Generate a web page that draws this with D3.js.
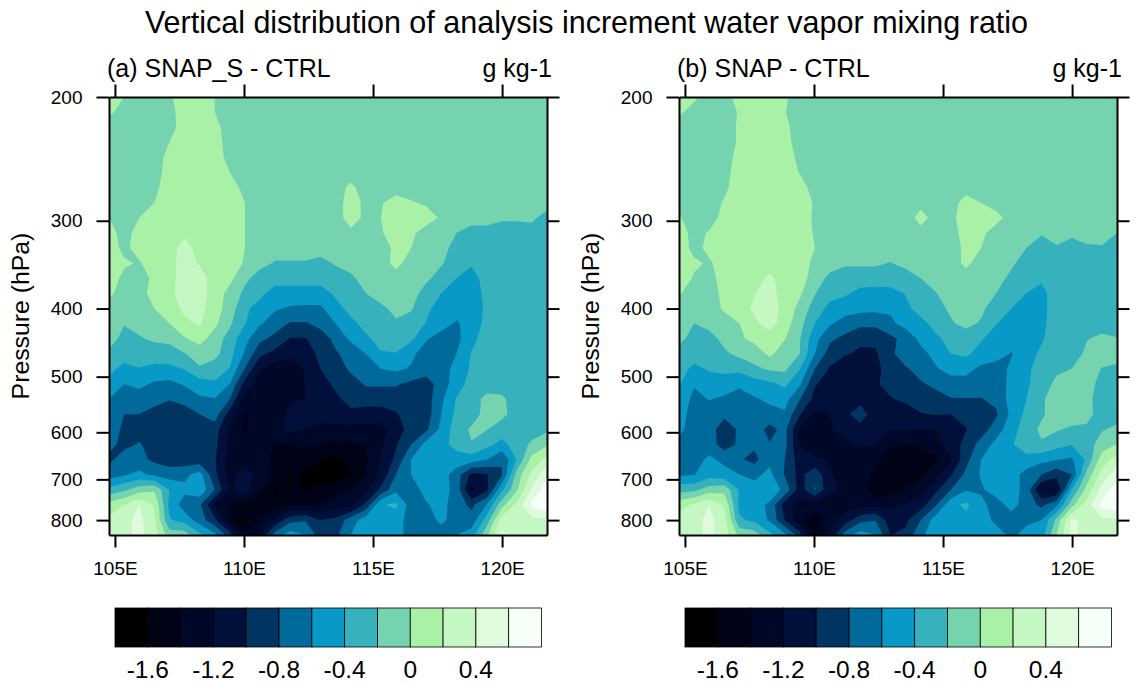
<!DOCTYPE html>
<html><head><meta charset="utf-8">
<script src="https://cdn.jsdelivr.net/npm/d3@7"></script>
<style>
html,body{margin:0;padding:0;background:#fff}
svg{display:block}
text{font-family:"Liberation Sans",Arial,sans-serif;fill:#000}
</style></head><body>
<svg id="c" width="1142" height="684"></svg>
<script>
const title = "Vertical distribution of analysis increment water vapor mixing ratio";
const panelTitles = ["(a) SNAP_S - CTRL", "(b) SNAP - CTRL"];
const unitLabel = "g kg-1";
const yAxisLabel = "Pressure (hPa)";
const levels = [-1.6,-1.4,-1.2,-1.0,-0.8,-0.6,-0.4,-0.2,0,0.2,0.4,0.6];
const colors = ["#000000","#000316","#00082a","#00103a","#003562","#006a9a","#0899c6","#37b2bd","#76d3b0","#a8f1a6","#c4f7c2","#dffadd","#f7fff9"];
const colorbarLabels = ["-1.6","-1.2","-0.8","-0.4","0","0.4"];
const lonTicks = [105,110,115,120];
const pressureTicks = [200,300,400,500,600,700,800];
const lonRange = [104.77,121.74];
const pressureRange = [200,840];

// Analysis increment, in units of 0.1 g/kg.
// Rows run from 200 hPa down to 840 hPa (even in log p), columns west to east.
const snapS = [
[1,0,-1,-1,-.3,1,1,0,-1,-1, -1,-1,-1,-1,-1,-1,-1,-1,-1,-1, -1,-1,-1,-1,-1,-1,-1,-1,-1,-1],
[.5,-1,-1,-1,-1,1.5,1,0,-1,-1, -1,-1,-1,-1,-1,-1,-1,-1,-1,-1, -1,-1,-1,-1,-1,-1,-1,-1,-1,-1],
[-1,-1,-1,-1,-.8,1,1,1,-1.5,-1, -1,-1,-1,-1,-1,-1,-1,-1,-1,-1, -1,-1,-1,-1,-1,-1,-1,-1,-1,-1],
[-1,-1,-1,-1,0,1,1,1,-1,-1, -1,-1,-1,-1,-1,-1,-1,-1,-1,-1, -1,-1,-1,-1,-1,-1,-1,-1,-1,-1],
[-1,-1,-1,-1.5,1,1,1,1.5,-1,-1, -1,-1,-1,-1,-1,-1,-1,-1,-1,-1, -1,-1,-1,-1,-1,-1,-1,-1,-1,-1],
[-1,-1,-1,-1,1,1,1,1,0,-1, -1,-1,-1,-1,-1,-1,-1,-1,-1,-1, -1,-1,-1,-1,-1,-1,-1,-1,-1,-1],
[-1,-1,-1,-.5,1,1,1,1,1.5,-1, -1,-1,-1,-1,-1,-1,.5,-1,-1,-1, -1,-1,-1,-1,-1,-1,-1,-1,-1,-1],
[-1,-1,-1,0,1,1,1,1,1,0, -1,-1,-1,-1,-1,-1,1,-.5,-.2,1, .2,-.3,-1,-1,-1,-1,-1,-1,-1,-1],
[0,-1,0,1,1,1,1,1,1,0, -1,-1,-1,-1,-1,-1,1,-.5,0,1, 1,1,-.3,-1,-1,-1,-1.7,-1.7,-1.5,-3],
[1,-1,1,1,1,1.5,1,1,1,0, -1,-1,-1,-1,-1,-1,-.5,-1,-.2,1, .5,-1,-1,-2,-3,-3,-3,-3,-3,-3],
[1,-.5,.8,1,1,3,1,1,1,0, -1,-1,-1,-1,-1,-1,-1,-1,-1,.5, 0,-1,-1,-3,-3,-3,-3,-3,-3,-3],
[1,.3,-.2,1,1.2,3,1.8,1,1,-.2, -1.3,-2.2,-2.2,-2.2,-2.7,-1.8,-1,-1,-1,.7, -1,-1,-1.8,-3,-3.7,-3,-3,-3,-3,-3],
[1,-.5,-1,.5,1.3,3,3,1,.5,-1.5, -3,-3,-3,-3,-3,-3,-2.5,-1,-1,-1, -1,-1.5,-3,-4,-5,-3,-3,-3,-3,-3],
[.5,-1,-1,1,1.5,3,3,1,-.6,-2.5, -3.4,-5,-5,-5,-5,-3.6,-3,-2,-1,-1, -1,-3,-4,-5,-5,-3.5,-3,-3,-3,-3],
[-1,-1,-1,0,1,2.5,2.6,1,-1,-3.5, -5,-5.8,-6.2,-6.3,-6.3,-4.8,-3.3,-3,-2.5,-1.4, -1.8,-3.5,-5,-5,-5,-3.7,-3,-3,-3,-3],
[-1,-1.9,-1.3,-1,0,1.5,2.2,.5,-1.7,-3.9, -5.8,-7,-8.2,-8.2,-7.4,-6,-4.6,-3.3,-2.8,-2.3, -2.8,-4.1,-5,-6.3,-5,-3.5,-3,-3,-3,-3],
[-1.2,-2.6,-2.2,-1.7,-1.7,-.2,.8,-1,-2.8,-5.4, -7.5,-8.6,-10.1,-10.1,-9,-7.5,-5.6,-4.4,-3.2,-3, -3.6,-5.8,-7,-6.6,-4.6,-3,-3,-3,-3,-3],
[-2.4,-3,-3,-3,-2.5,-2.1,-1.2,-1.4,-3.3,-6.3, -9.5,-10.6,-11.7,-10.8,-9.6,-8.2,-7.4,-6,-4.2,-4.1, -5.5,-7,-7,-6,-3.9,-3,-3,-3,-3,-3],
[-3.5,-4.6,-4.1,-4.5,-4.6,-3.9,-2.2,-3,-4.1,-8.1, -12,-13,-13,-11.8,-10,-9.2,-7.6,-7,-6,-5.6, -6.2,-7,-7,-5.3,-3.7,-3,-3,-3,-3,-3],
[-4.5,-6,-5.5,-6.3,-6.5,-5.8,-5,-4.3,-6,-10.8, -13,-13,-13,-12,-11,-9.5,-9,-7.8,-7.8,-7.8, -8.5,-9,-7,-5,-3.2,-3,-3,-3,-3,-3],
[-6,-7,-7,-7,-7.9,-7.3,-6.3,-6.1,-8,-13, -13,-13,-12.2,-12,-11,-10.5,-9.2,-9,-9,-9, -9,-9,-6.4,-3.9,-3,-1.4,-1.6,-3,-3,-3],
[-6.4,-8,-8,-9,-9,-9,-8,-7,-11,-14.3, -13,-13,-11.5,-12,-11.5,-11,-10.5,-11,-11,-10.2, -9,-9,-6,-3.5,-3,-1.2,-1.4,-3,-3,-3],
[-6.6,-8.5,-9,-9,-9,-9,-9,-9,-12.5,-14.2, -13,-12.5,-11.5,-12,-12.3,-12.5,-12.6,-12.7,-12.6,-11.2, -9,-8.4,-5.5,-3,-1.7,-1.9,-3,-3,-3,-2.4],
[-7.4,-8.6,-7.8,-9,-9,-9,-9,-9.5,-12.5,-13, -13,-14.1,-14.2,-13.5,-14.2,-14.5,-14.3,-14,-12.4,-10.2, -8,-5.3,-4.6,-3.4,-2.1,-3.4,-4.6,-3.2,-1.6,-.3],
[-8.5,-7,-7.4,-8.4,-9,-9.2,-9.2,-9.8,-13,-13, -13.5,-14.3,-14.6,-15.2,-15.9,-16.6,-15.5,-14.2,-11.9,-9.5, -6,-5,-5,-4.8,-5,-5.9,-7.8,-3.8,.6,2.6],
[-7,-6.2,-5.5,-6.5,-7,-6.5,-5.2,-9.5,-13,-11, -13,-14.3,-15,-16.3,-16.8,-16.8,-16,-14,-11.5,-8, -6,-5,-5,-7,-10.5,-10.2,-8.2,-1.2,2.5,5.5],
[-3.4,-2.4,-.9,-.3,-4,-5.5,-4.5,-8,-12.2,-11, -13.8,-16.3,-15.3,-16.2,-15.5,-15,-14,-12.5,-9.5,-6.5, -7,-5.3,-5,-6.8,-12.5,-10.5,-4.5,-.3,4.4,7.2],
[.9,2,4,1.8,-4.5,-7,-7.7,-12,-14.2,-15, -15.5,-15.8,-14,-14,-14,-13,-12.5,-9.5,-4.2,-3.6, -7,-6.2,-5.3,-7,-8.5,-6,-.8,2.5,6.5,7.8],
[2.5,3.4,4.6,2.3,-3.8,-4.8,-7,-9.5,-14.2,-16.4, -14,-11.5,-8.7,-8.2,-10,-9.5,-7,-5,-5,-5, -7,-7,-5.5,-7,-7.2,-3.2,3,2.5,3.5,3.8],
[3,3.4,4.6,3,-1,-1,-3.5,-5.5,-9,-14, -12,-7,-5,-6,-9,-8.5,-6,-4.8,-5,-5, -7,-7,-7,-6,-5,-.5,4.5,3,3.4,3]
];
const snap = [
[1,.5,-1,-1,1,1,1,.3,-1,-1, -1,-1,-1,-1,-1,-1,-1,-1,-1,-1, -1,-1,-1,-1,-1,-1,-1,-1,-1,-1],
[.5,-1,-1,-1,.2,1,1,.1,-1,-1, -1,-1,-1,-1,-1,-1,-1,-1,-1,-1, -1,-1,-1,-1,-1,-1,-1,-1,-1,-1],
[-1,-1,-1,-1,.3,1,1,.5,-1,-1, -1,-1,-1,-1,-1,-1,-1,-1,-1,-1, -1,-1,-1,-1,-1,-1,-1,-1,-1,-1],
[-1,-1,-1,-1,.3,1,1,.8,-1,-1, -1,-1,-1,-1,-1,-1,-1,-1,-1,-1, -1,-1,-1,-1,-1,-1,-1,-1,-1,-1],
[-1,-1,-1,-1,.8,1,1,1,-.5,-1, -1,-1,-1,-1,-1,-1,-1,-1,-1,-1, -1,-1,-1,-1,-1,-1,-1,-1,-1,-1],
[-1,-1,-1,-.7,1,1,1,1,-.1,-1, -1,-1,-1,-1,-1,-1,-1,-1,-1,-1, -1,-1,-1,-1,-1,-1,-1,-1,-1,-1],
[-1,-1,-1,-.4,1,1,1,1,1,-1, -1,-1,-1,-1,-1,-1,-1,-1,-1,-1, -1,-1,-1,-1,-1,-1,-1,-1,-1,-1],
[-1,-1,-1,.2,1,1,1,1,1,-.2, -1,-1,-1,-1,-1,-1,-.8,-1,-1,1, 0,-1,-1,-1,-1,-1,-1,-1,-1,-1],
[.2,-1,-1,.8,1,1,1,1,1,-.3, -1,-1,-1,-1,-1,-1.5,1,-1,-.5,1, 1,.8,-1,-1,-1,-1,-1,-1,-1,-1],
[1,-.7,.2,1,1,1,1,1,1,-.2, -1,-1,-1,-1,-1,-1,-1,-1,-1,1, .5,-1,-1,-1,-1.8,-1.2,-1.5,-1.2,-1.1,-2],
[1,-.5,.4,1,1,1,1,1,1,0, -1,-1,-1,-1,-1,-1,-1,-1,-1,.5, 0,-1,-1.5,-2,-3,-2.2,-3,-2.3,-2.2,-3],
[.6,.3,-.2,.7,1,1,1,1,1,-.5, -1.2,-1.7,-1.7,-1.7,-2.1,-1.4,-1,-1,-1,.5, -1,-1,-1.6,-3,-3,-3,-3,-3,-3,-3],
[1,-.2,-.8,1,1,1,2.5,1,1,-1, -2.5,-3,-3,-3,-3,-3,-2,-1,-1,-1, -1,-1.2,-2.5,-3,-3.7,-3,-3,-3,-3,-3],
[.2,-1,-1,.6,1.2,1.9,2.9,1,.3,-1.9, -3.3,-3.7,-4.6,-4.8,-4.7,-3.9,-3,-2.1,-1,-1, -1,-2,-3,-4,-4.6,-3,-3,-3,-3,-3],
[-1,-1,-1,.3,1,2.4,3,1.3,-.6,-3, -4.6,-5.3,-5.4,-5.5,-5.7,-4.5,-3.2,-2.6,-1.7,-1, -1.6,-3,-4,-5,-4.6,-3,-3,-3,-3,-3],
[-1.2,-2,-1.5,-1,0,1.6,2.9,1,-1.3,-4, -5.8,-6.7,-7.5,-7.5,-6.4,-5.3,-4.6,-3.4,-2.2,-1.5, -2.2,-3.9,-5,-5,-4.5,-3,-3,-3,-3,-3],
[-1.5,-2.7,-2.6,-1.5,-.3,.5,1,.1,-1.9,-5.4, -7.6,-8.6,-9.5,-9.5,-8.5,-7.3,-5.5,-4.3,-3.5,-3, -3.8,-5,-5.5,-5.5,-4.2,-3,-3,-2.1,-1.5,-1.9],
[-2.8,-3,-3,-2.3,-1.5,-1,.4,-1,-2,-6, -9,-9.8,-10.4,-10.3,-8.4,-7,-6.6,-5.4,-4,-3.6, -4.8,-5.2,-6.1,-4.7,-3.7,-2.9,-3,-1.6,-1,-1],
[-3.2,-4.5,-3.8,-3.5,-3.5,-2.4,-1.7,-1.6,-3.9,-8, -10.2,-11.6,-11.7,-10.5,-9.2,-8.2,-7.4,-6.2,-5.2,-5.4, -6.4,-6.8,-5.7,-4.5,-3,-2.4,-2,-1,-2.1,-2.5],
[-3.8,-5.8,-4.9,-5,-5.6,-4.9,-4.4,-3.6,-5.7,-9.8, -11,-11.5,-11.5,-10.2,-9.5,-9.2,-8.2,-7.6,-7,-6.7, -6.9,-7,-5.5,-4.3,-3,-1.5,-1,-1.4,-2.5,-3],
[-4.5,-6.6,-5.9,-6.3,-6.9,-6.2,-5.6,-5.2,-7.9,-10.7, -11.5,-11.5,-11,-11.5,-10.1,-9.7,-9.2,-8.7,-8.1,-8.1, -8.1,-7.5,-5.2,-4,-2.3,-1,-1,-1.4,-3,-3],
[-5,-7,-7,-7.6,-7,-7,-6.7,-6.3,-9.8,-12.6, -12,-10.6,-8.6,-11.5,-10.8,-10.8,-10.1,-9.9,-10,-9.2, -9,-8.3,-5.5,-3.5,-2.3,-1,-1,-1.3,-3,-3],
[-5.5,-7,-7.2,-9,-7.7,-7,-8.6,-7.4,-12.2,-13, -12.2,-11.2,-11,-11.8,-11.9,-11.8,-12,-12,-11,-10.1, -9,-7,-4.8,-3,-1.6,-1.8,-2.3,-2.4,-2.2,-1.5],
[-6.6,-7,-7,-9,-7.6,-7.6,-7.9,-7.4,-12.2,-13, -13,-12.5,-11.8,-12,-13.8,-14,-13.8,-13,-11,-9.4, -7.2,-5.4,-4.2,-3,-2.2,-3.2,-3.9,-3,-1,.1],
[-6.7,-6.8,-5.6,-6.5,-7.8,-8.6,-6.5,-8,-11,-11.7, -12.2,-12.7,-12.8,-13.7,-14.8,-15,-15,-14.3,-12.2,-8.7, -6,-5,-4.8,-4.6,-5.4,-5.9,-6.3,-3.6,1,2.8],
[-6.3,-6.1,-5,-5.3,-6,-6.5,-5.5,-8.2,-10.7,-8.5, -11.8,-12.6,-13,-14.5,-15.3,-15.2,-14.5,-12.7,-10.2,-7.5, -5.8,-5,-5,-6.8,-8,-9.4,-8,-1.3,2.7,5.2],
[-2.8,-2.5,-1,-.6,-4.2,-5.2,-4.8,-6.5,-11,-7.8, -11.6,-12.4,-13,-15.4,-15.2,-14,-12.8,-10.5,-8,-6.2, -6.3,-5,-5,-6.8,-12.2,-12.2,-4,.6,4.8,7.2],
[1.2,2.3,4,1.7,-4.5,-5.4,-6.3,-11,-13,-12.8, -12.8,-13,-12.8,-12.6,-12.4,-11.8,-11,-8.2,-4.6,-3.6, -5.4,-7,-5.2,-7,-8.5,-6.5,-.8,3,6.6,7.6],
[2.8,3.2,4.6,2.8,-3.7,-4.5,-6.3,-10,-13.5,-15.5, -13,-11,-8.7,-8.1,-11,-10.5,-8,-5,-4.7,-4.6, -5,-6.5,-7,-6.5,-6,-1.5,4.5,3.3,3.6,3.6],
[3,3.3,4.6,3,-.5,-1,-3.5,-5.5,-9,-14, -11.5,-7,-5,-6,-10,-9.5,-6.4,-5,-5,-5, -5,-5,-6.5,-5.2,-5,0,4.6,3,3,3]
];
const panelsData = [snapS, snap];

const svg = d3.select("#c");
svg.append("text").attr("x",586.5).attr("y",33).attr("text-anchor","middle")
  .attr("font-size",30.5).text(title);

const plotW = 438, plotH = 438, plotTop = 97, plotLefts = [109,679], tickLen = 12.5;
const nCols = snapS[0].length, nRows = snapS.length;
const contourGen = d3.contours().size([nCols,nRows]).thresholds(levels);

panelsData.forEach((rows,p)=>{
  const left = plotLefts[p];
  const g = svg.append("g").attr("transform",`translate(${left},${plotTop})`);
  const x = d3.scaleLinear().domain(lonRange).range([0,plotW]);
  const y = d3.scaleLog().domain(pressureRange).range([0,plotH]);
  const lonAt = c => lonRange[0] + (c-.5)/(nCols-1)*(lonRange[1]-lonRange[0]);
  const presAt = r => pressureRange[0]*Math.pow(pressureRange[1]/pressureRange[0],(r-.5)/(nRows-1));
  const path = d3.geoPath(d3.geoTransform({point(a,b){this.stream.point(x(lonAt(a)),y(presAt(b)));}}));
  const flat = rows.flat().map(v=>v/10);
  const clipId = "clip"+p;
  g.append("clipPath").attr("id",clipId).append("rect").attr("width",plotW).attr("height",plotH);
  const plot = g.append("g").attr("clip-path",`url(#${clipId})`);
  plot.append("rect").attr("width",plotW).attr("height",plotH).attr("fill",colors[0]);
  plot.selectAll("path").data(contourGen(flat)).join("path")
    .attr("d",path).attr("fill",(d,i)=>colors[i+1]);

  const fmtLon = d=>d+"E";
  const styleAxis = a=>{
    a.selectAll("path").attr("stroke","#000").attr("stroke-width",2);
    a.selectAll("line").attr("stroke","#000").attr("stroke-width",2);
  };
  const bottom = g.append("g").attr("transform",`translate(0,${plotH})`)
    .call(d3.axisBottom(x).tickValues(lonTicks).tickFormat(fmtLon).tickSize(tickLen).tickSizeOuter(0).tickPadding(14)).call(styleAxis);
  bottom.selectAll("text").attr("font-size",19);
  g.append("g").call(d3.axisTop(x).tickValues(lonTicks).tickFormat("").tickSize(tickLen).tickSizeOuter(0)).call(styleAxis);
  const leftAxis = g.append("g")
    .call(d3.axisLeft(y).tickValues(pressureTicks).tickFormat(d3.format("d")).tickSize(tickLen).tickSizeOuter(0).tickPadding(14)).call(styleAxis);
  leftAxis.selectAll("text").attr("font-size",19);
  g.append("g").attr("transform",`translate(${plotW},0)`)
    .call(d3.axisRight(y).tickValues(pressureTicks).tickFormat("").tickSize(tickLen).tickSizeOuter(0)).call(styleAxis);
  svg.selectAll("g text").attr("font-family",'"Liberation Sans",Arial,sans-serif').attr("fill","#000");

  svg.append("text").attr("x",left-2).attr("y",77).attr("font-size",25).text(panelTitles[p]);
  svg.append("text").attr("x",left+plotW+5).attr("y",77).attr("text-anchor","end").attr("font-size",25).text(unitLabel);
  svg.append("text").attr("transform",`translate(${left-80},${plotTop+plotH/2}) rotate(-90)`)
    .attr("text-anchor","middle").attr("font-size",24.8).text(yAxisLabel);

  // colour bar
  const barLeft = left+6, barW = 426.5, barTop = 608, barH = 39;
  const boxW = barW/colors.length;
  const cb = svg.append("g").attr("transform",`translate(${barLeft},${barTop})`);
  cb.selectAll("rect").data(colors).join("rect")
    .attr("x",(d,i)=>i*boxW).attr("width",boxW).attr("height",barH)
    .attr("fill",d=>d).attr("stroke","#000").attr("stroke-width",.8);
  const cx = d3.scaleLinear().domain([levels[0],levels[levels.length-1]]).range([boxW,barW-boxW]);
  cb.selectAll("text").data(colorbarLabels).join("text")
    .attr("x",d=>cx(+d)).attr("y",barH+31).attr("text-anchor","middle").attr("font-size",24.5).text(d=>d);
});
</script>
</body></html>
